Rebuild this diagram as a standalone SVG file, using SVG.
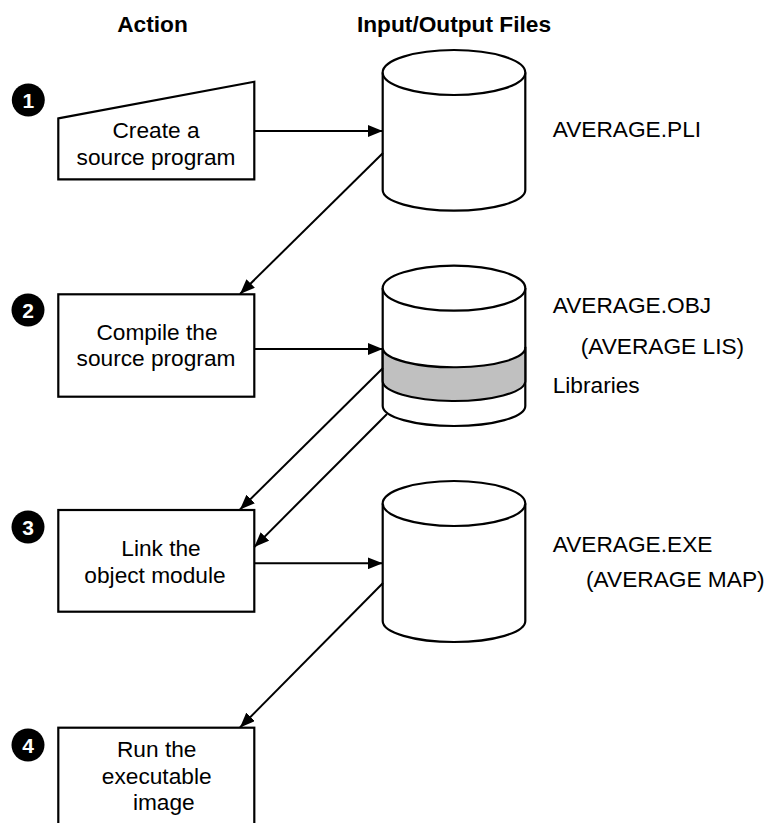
<svg xmlns="http://www.w3.org/2000/svg" width="771" height="823" viewBox="0 0 771 823">
<style>
text{font-family:"Liberation Sans",Arial,sans-serif;fill:#000}
.hdr{font-size:22.7px;font-weight:bold;text-anchor:middle}
.lbl{font-size:22.7px;text-anchor:middle}
.file{font-size:22.7px}
.shape{fill:#fff;stroke:#000;stroke-width:2.2}
.badge circle{fill:#000}
.badge text{fill:#fff;font-size:21px;font-weight:bold;text-anchor:middle}
.conn line{stroke:#000;stroke-width:2;marker-end:url(#ah)}
</style>
<defs>
<marker id="ah" markerUnits="userSpaceOnUse" markerWidth="16" markerHeight="12" refX="15" refY="6" orient="auto">
<path d="M0,0 L15,6 L0,12 Z" fill="#000"/>
</marker>
</defs>
<rect width="771" height="823" fill="#fff"/>
<g id="headers">
<text class="hdr" x="152.5" y="32">Action</text>
<text class="hdr" x="454" y="32">Input/Output Files</text>
</g>
<g id="badge1" class="badge"><circle cx="28.3" cy="100" r="16.5"/><text x="28.3" y="107.5">1</text></g>
<g id="badge2" class="badge"><circle cx="28" cy="310" r="16.5"/><text x="28" y="317.5">2</text></g>
<g id="badge3" class="badge"><circle cx="28" cy="527" r="16.5"/><text x="28" y="534.5">3</text></g>
<g id="badge4" class="badge"><circle cx="28" cy="745" r="16.5"/><text x="28" y="752.5">4</text></g>
<g id="step1">
<polygon class="shape" points="58.3,118.3 254.3,81.7 254.3,179.3 58.3,179.3"/>
<text class="lbl" x="156" y="137.7">Create a</text>
<text class="lbl" x="156" y="165">source program</text>
</g>
<g id="step2">
<rect class="shape" x="58.3" y="294.3" width="196" height="102.4"/>
<text class="lbl" x="157" y="340">Compile the</text>
<text class="lbl" x="156" y="366">source program</text>
</g>
<g id="step3">
<rect class="shape" x="58.3" y="510" width="196" height="101.7"/>
<text class="lbl" x="161" y="556">Link the</text>
<text class="lbl" x="155" y="582.7">object module</text>
</g>
<g id="step4">
<rect class="shape" x="58.3" y="727.7" width="196" height="110"/>
<text class="lbl" x="156.7" y="757.3">Run the</text>
<text class="lbl" x="156.7" y="784.3">executable</text>
<text class="lbl" x="163.8" y="810">image</text>
</g>
<g id="file1">
<path class="shape" d="M382.7,72.5 V190 A71.3,20.7 0 0 0 525.3,190 V72.5"/>
<ellipse class="shape" cx="454" cy="72.5" rx="71.3" ry="22.5"/>
<text class="file" x="552.7" y="137.3">AVERAGE.PLI</text>
</g>
<g id="file2">
<path class="shape" d="M382.7,288 V406 A71.3,20 0 0 0 525.3,406 V288"/>
<path d="M382.7,348.5 A71.3,19.5 0 0 0 525.3,347 V381.5 A71.3,20 0 0 1 382.7,380.5 Z" fill="#c0c0c0" stroke="#000" stroke-width="2.2"/>
<ellipse class="shape" cx="454" cy="288.2" rx="71.3" ry="22.5"/>
<text class="file" x="552.7" y="313.3">AVERAGE.OBJ</text>
<text class="file" x="580.7" y="354">(AVERAGE LIS)</text>
<text class="file" x="552.7" y="393">Libraries</text>
</g>
<g id="file3">
<path class="shape" d="M382.7,503.5 V621 A71.3,21 0 0 0 525.3,621 V503.5"/>
<ellipse class="shape" cx="454" cy="503.5" rx="71.3" ry="22.5"/>
<text class="file" x="552.7" y="551.7">AVERAGE.EXE</text>
<text class="file" x="586" y="586.7">(AVERAGE MAP)</text>
</g>
<g id="connectors" class="conn">
<line x1="254.3" y1="131" x2="382.7" y2="131"/>
<line x1="383" y1="153" x2="240" y2="294"/>
<line x1="254.3" y1="349" x2="382.7" y2="349"/>
<line x1="383" y1="368" x2="240" y2="509.5"/>
<line x1="387" y1="414" x2="254.3" y2="547"/>
<line x1="254.3" y1="563.3" x2="382.7" y2="563.3"/>
<line x1="383" y1="583" x2="240" y2="727.5"/>
</g>
</svg>
